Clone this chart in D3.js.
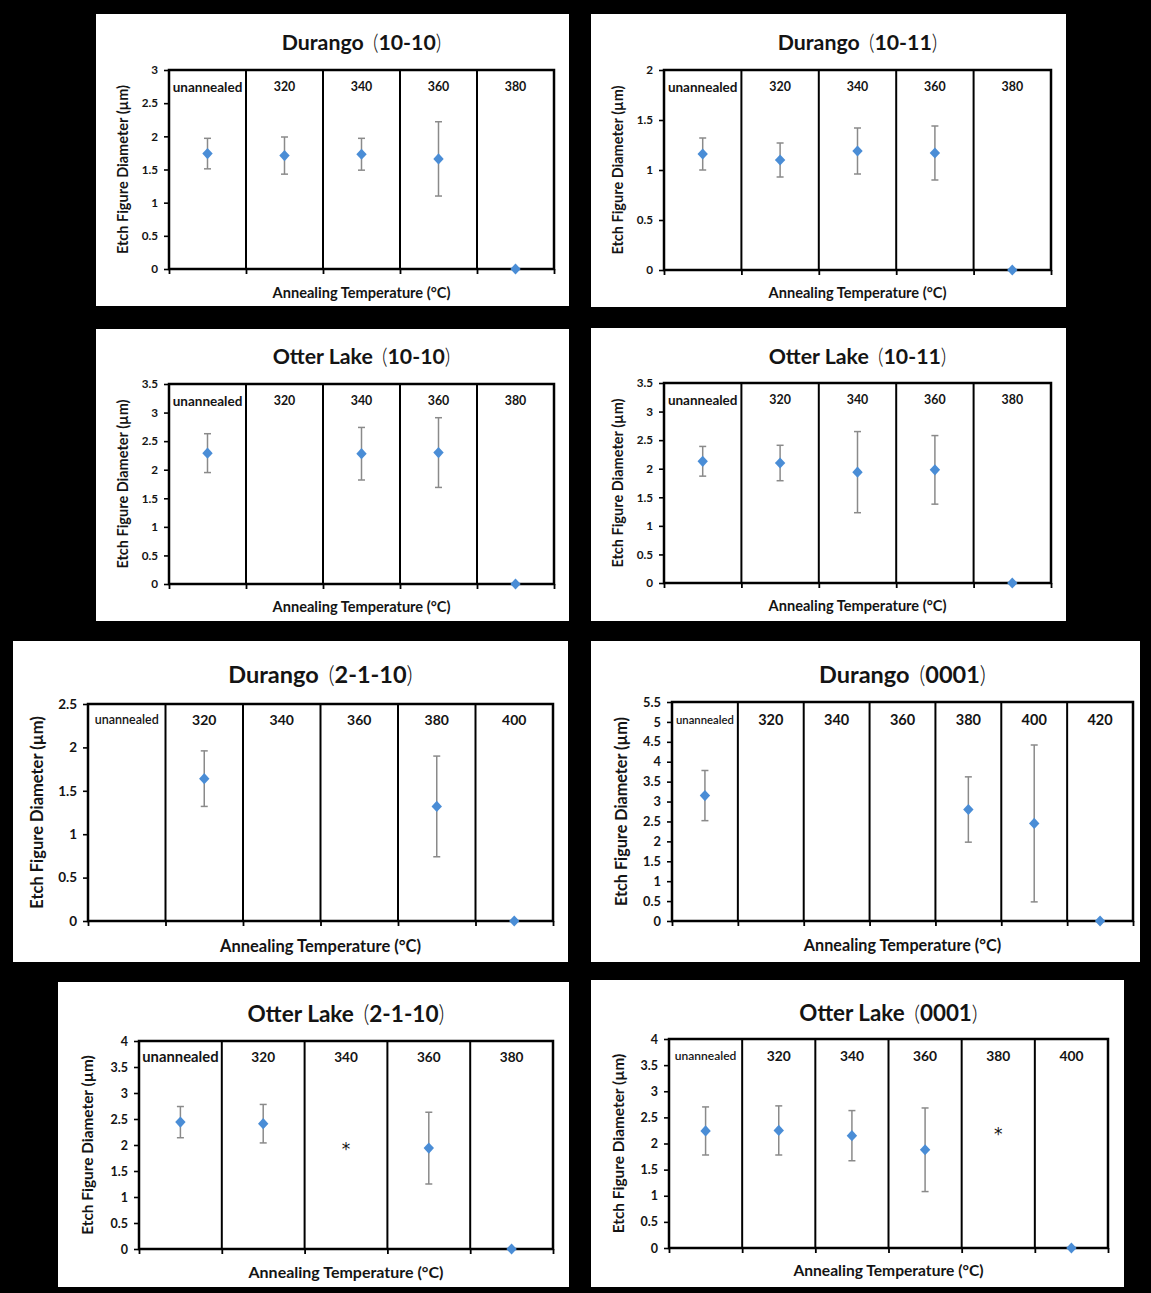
<!DOCTYPE html>
<html>
<head>
<meta charset="utf-8">
<script src="https://cdn.jsdelivr.net/npm/d3@7"></script>
<style>
  body { margin: 0; background: #000; }
  svg { display: block; }
  text { font-family: Lato, "Open Sans", "Liberation Sans", sans-serif; fill: #141414; }
</style>
</head>
<body>
<svg id="chart" width="1151" height="1293"></svg>
<script>
// ---- categories (annealing temperature, °C) ----
const temps5 = ["unannealed", "320", "340", "360", "380"];
const temps6 = ["unannealed", "320", "340", "360", "380", "400"];
const temps7 = ["unannealed", "320", "340", "360", "380", "400", "420"];

// ---- panel titles and y-axis maxima ----
const panelTitles = [
  "Durango (10-10)", "Durango (10-11)",
  "Otter Lake (10-10)", "Otter Lake (10-11)",
  "Durango (2-1-10)", "Durango (0001)",
  "Otter Lake (2-1-10)", "Otter Lake (0001)"
];
const yMaxima = [3, 2, 3.5, 3.5, 2.5, 5.5, 4, 4];
const yTickStep = 0.5;
const yAxisTitle = "Etch Figure Diameter (µm)";
const xAxisTitle = "Annealing Temperature (°C)";

// ---- mean etch figure diameter (µm) and ± error; null = not measured ----
const durango1010Mean = [1.74, 1.71, 1.73, 1.66, 0];
const durango1010Err  = [0.23, 0.28, 0.24, 0.56, 0];

const durango1011Mean = [1.16, 1.10, 1.19, 1.17, 0];
const durango1011Err  = [0.16, 0.17, 0.23, 0.27, 0];

const otter1010Mean = [2.29, null, 2.28, 2.30, 0];
const otter1010Err  = [0.34, null, 0.46, 0.61, 0];

const otter1011Mean = [2.13, 2.10, 1.94, 1.98, 0];
const otter1011Err  = [0.26, 0.31, 0.71, 0.60, 0];

const durango2110Mean = [null, 1.64, null, null, 1.32, 0];
const durango2110Err  = [null, 0.32, null, null, 0.58, 0];

const durango0001Mean = [3.15, null, null, null, 2.80, 2.45, 0];
const durango0001Err  = [0.63, null, null, null, 0.82, 1.97, 0];

const otter2110Mean  = [2.44, 2.41, null, 1.94, 0];
const otter2110Err   = [0.30, 0.37, null, 0.69, 0];
const otter2110Marks = [null, null, 1.98, null, null];   // "*" annotations

const otter0001Mean  = [2.24, 2.25, 2.15, 1.88, null, 0];
const otter0001Err   = [0.46, 0.47, 0.48, 0.80, null, 0];
const otter0001Marks = [null, null, null, null, 2.23, null];

// ---- series assembled per panel ----
const series = [
  { cats: temps5, mean: durango1010Mean, err: durango1010Err },
  { cats: temps5, mean: durango1011Mean, err: durango1011Err },
  { cats: temps5, mean: otter1010Mean,   err: otter1010Err },
  { cats: temps5, mean: otter1011Mean,   err: otter1011Err },
  { cats: temps6, mean: durango2110Mean, err: durango2110Err },
  { cats: temps7, mean: durango0001Mean, err: durango0001Err },
  { cats: temps5, mean: otter2110Mean,   err: otter2110Err,  marks: otter2110Marks },
  { cats: temps6, mean: otter0001Mean,   err: otter0001Err,  marks: otter0001Marks }
];

// ---- panel placement: white card, plot rectangle [x0, y0, x1, y1], font sizes ----
const smallFonts = { title: 21.3, yTitle: 14.5, xTitle: 14.6, cat: 12.4, first: 13.5, firstWeight: 700, tick: 11.7 };
const layouts = [
  { card: [96, 14, 473, 292],  plot: [169, 70, 554, 269],   titleY: 43,   fs: smallFonts, yTitleDx: -46, catDy: 17, xTitleDy: 24 },
  { card: [591, 14, 475, 293], plot: [664, 70, 1051, 270],  titleY: 43,   fs: smallFonts, yTitleDx: -46, catDy: 17, xTitleDy: 23 },
  { card: [96, 329, 473, 292], plot: [169, 384, 554, 584],  titleY: 357,  fs: smallFonts, yTitleDx: -46, catDy: 17, xTitleDy: 23 },
  { card: [591, 328, 475, 293], plot: [664, 383, 1051, 583], titleY: 357, fs: smallFonts, yTitleDx: -46, catDy: 17, xTitleDy: 23 },
  { card: [13, 641, 555, 321], plot: [88, 704, 553, 921],   titleY: 675,
    fs: { title: 23.5, yTitle: 16.5, xTitle: 16.5, cat: 14, first: 12.5, firstWeight: 600, tick: 13.5 }, yTitleDx: -51, catDy: 16, xTitleDy: 25 },
  { card: [591, 641, 549, 321], plot: [672, 702, 1133, 921], titleY: 675,
    fs: { title: 23.5, yTitle: 16.2, xTitle: 16.2, cat: 14.5, first: 11.3, firstWeight: 600, tick: 12.8 }, yTitleDx: -51, catDy: 18, xTitleDy: 24 },
  { card: [58, 982, 511, 305], plot: [139, 1041, 553, 1249], titleY: 1014,
    fs: { title: 22.6, yTitle: 15.4, xTitle: 16, cat: 13.6, first: 14.8, firstWeight: 700, tick: 12.5 }, yTitleDx: -51, catDy: 16, xTitleDy: 23 },
  { card: [591, 980, 533, 307], plot: [669, 1039, 1108, 1248], titleY: 1013,
    fs: { title: 22.4, yTitle: 15.4, xTitle: 15.6, cat: 13.8, first: 12, firstWeight: 600, tick: 12.5 }, yTitleDx: -50, catDy: 17, xTitleDy: 23 }
];

const markerColor = "#4a8dd6";
const errColor = "#8a8a8a";

const svg = d3.select("#chart");
svg.append("rect").attr("width", 1151).attr("height", 1293).attr("fill", "#000");

function diamond(w, h) {
  return `M0,${-h}L${w},0L0,${h}L${-w},0Z`;
}

function drawPanel(s, title, yMax, L) {
  const g = svg.append("g");
  const [x0, y0, x1, y1] = L.plot;
  const n = s.cats.length;

  // white card
  g.append("rect")
    .attr("x", L.card[0]).attr("y", L.card[1])
    .attr("width", L.card[2]).attr("height", L.card[3])
    .attr("fill", "#fff");

  const x = d3.scaleBand().domain(s.cats).range([x0, x1]).padding(0);
  const edge = d3.scaleLinear().domain([0, n]).range([x0, x1]);
  const y = d3.scaleLinear().domain([0, yMax]).range([y1, y0]);

  // title: bold name and code, thin parentheses
  const m = title.match(/^(.*) \((.*)\)$/);
  const t = g.append("text")
    .attr("x", (x0 + x1) / 2).attr("y", L.titleY).attr("dy", "0.35em")
    .attr("text-anchor", "middle").style("font-size", L.fs.title + "px");
  t.append("tspan").style("font-weight", 700).text(m[1] + " ");
  t.append("tspan").attr("dx", 4).style("font-weight", 300).text("(");
  t.append("tspan").style("font-weight", 700).text(m[2]);
  t.append("tspan").style("font-weight", 300).text(")");

  // y axis
  const yAxis = d3.axisLeft(y)
    .tickValues(d3.range(0, yMax + 1e-9, yTickStep))
    .tickFormat(d3.format(""))
    .tickSize(5).tickPadding(6);
  const ya = g.append("g").attr("transform", `translate(${x0},0)`).call(yAxis);
  ya.select(".domain").remove();
  ya.selectAll(".tick line").attr("stroke", "#000").attr("stroke-width", 1.6);
  ya.selectAll(".tick text")
    .style("font-family", "Lato, 'Open Sans', sans-serif")
    .style("font-size", L.fs.tick + "px").style("font-weight", 700).attr("fill", "#222");

  // x axis: tick marks on the column boundaries
  const xAxis = d3.axisBottom(edge).tickValues(d3.range(n + 1)).tickFormat("").tickSize(5);
  const xa = g.append("g").attr("transform", `translate(0,${y1})`).call(xAxis);
  xa.select(".domain").remove();
  xa.selectAll(".tick line").attr("stroke", "#000").attr("stroke-width", 1.8);

  // column dividers
  g.append("g").selectAll("line")
    .data(d3.range(1, n))
    .join("line")
    .attr("x1", d => edge(d)).attr("x2", d => edge(d))
    .attr("y1", y0).attr("y2", y1)
    .attr("stroke", "#000").attr("stroke-width", 2);

  // plot frame
  g.append("rect")
    .attr("x", x0).attr("y", y0).attr("width", x1 - x0).attr("height", y1 - y0)
    .attr("fill", "none").attr("stroke", "#000").attr("stroke-width", 2.5);

  // column headings
  g.append("g").selectAll("text")
    .data(s.cats)
    .join("text")
    .attr("x", d => x(d) + x.bandwidth() / 2)
    .attr("y", y0 + L.catDy).attr("dy", "0.35em")
    .attr("text-anchor", "middle")
    .style("font-size", (d, i) => (i === 0 ? L.fs.first : L.fs.cat) + "px")
    .style("font-weight", (d, i) => (i === 0 ? L.fs.firstWeight : 700))
    .text(d => d);

  // axis titles
  g.append("text")
    .attr("transform", `translate(${x0 + L.yTitleDx},${(y0 + y1) / 2}) rotate(-90)`)
    .attr("dy", "0.35em").attr("text-anchor", "middle")
    .style("font-size", L.fs.yTitle + "px").style("font-weight", 700)
    .text(yAxisTitle);
  g.append("text")
    .attr("x", (x0 + x1) / 2).attr("y", y1 + L.xTitleDy).attr("dy", "0.35em")
    .attr("text-anchor", "middle")
    .style("font-size", L.fs.xTitle + "px").style("font-weight", 700)
    .text(xAxisTitle);

  const pts = s.cats.map((c, i) => ({ c, v: s.mean[i], e: s.err[i] }))
    .filter(d => d.v !== null);

  // error bars
  const eb = g.append("g").attr("stroke", errColor).attr("stroke-width", 1.5);
  pts.filter(d => d.e > 0).forEach(d => {
    const cx = x(d.c) + x.bandwidth() / 2;
    eb.append("line").attr("x1", cx).attr("x2", cx).attr("y1", y(d.v + d.e)).attr("y2", y(d.v - d.e));
    eb.append("line").attr("x1", cx - 3.5).attr("x2", cx + 3.5).attr("y1", y(d.v + d.e)).attr("y2", y(d.v + d.e));
    eb.append("line").attr("x1", cx - 3.5).attr("x2", cx + 3.5).attr("y1", y(d.v - d.e)).attr("y2", y(d.v - d.e));
  });

  // diamond markers
  g.append("g").selectAll("path")
    .data(pts)
    .join("path")
    .attr("transform", d => `translate(${x(d.c) + x.bandwidth() / 2},${y(d.v)})`)
    .attr("d", diamond(5.2, 5.6))
    .attr("fill", markerColor);

  // asterisk annotations
  if (s.marks) {
    g.append("g").selectAll("text")
      .data(s.cats.map((c, i) => ({ c, v: s.marks[i] })).filter(d => d.v !== null))
      .join("text")
      .attr("x", d => x(d.c) + x.bandwidth() / 2)
      .attr("y", d => y(d.v) + 9)
      .attr("text-anchor", "middle")
      .style("font-family", "'DejaVu Sans', sans-serif")
      .style("font-size", "17px").style("font-weight", 400)
      .text("*");
  }
}

series.forEach((s, i) => drawPanel(s, panelTitles[i], yMaxima[i], layouts[i]));
</script>
</body>
</html>
